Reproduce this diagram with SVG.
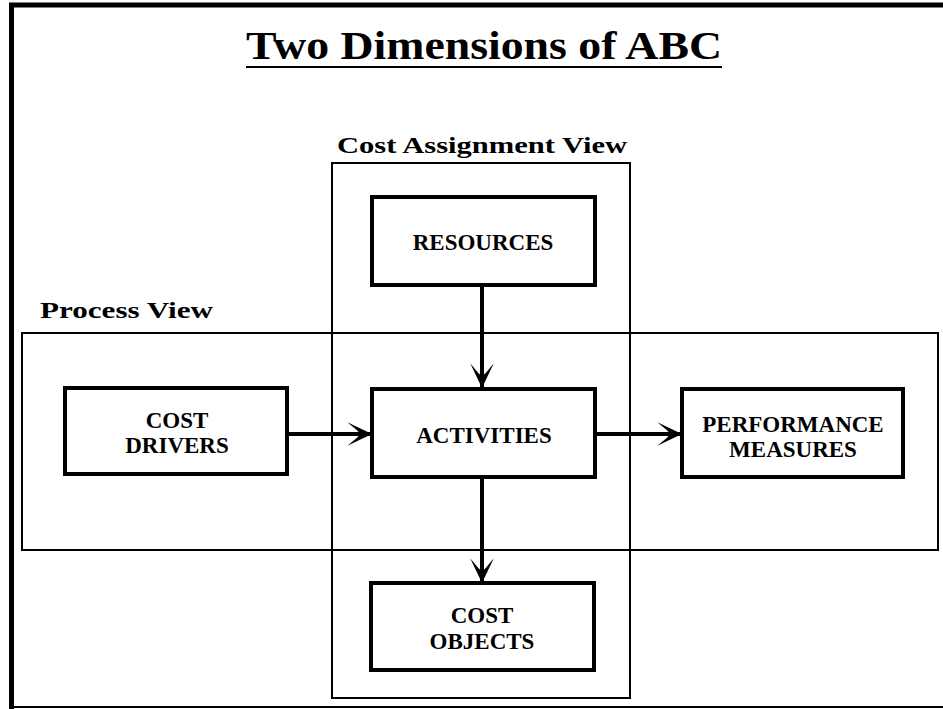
<svg xmlns="http://www.w3.org/2000/svg" width="943" height="709" viewBox="0 0 943 709">
<defs>
<style>
.frame{fill:none;stroke:#000}
.view{fill:none;stroke:#000;stroke-width:2}
.box{fill:#fff;stroke:#000;stroke-width:4}
.lbl{font-family:"Liberation Serif","Times New Roman",serif;font-weight:bold;font-size:23px;text-anchor:middle;fill:#000}
.vlbl{font-family:"Liberation Serif","Times New Roman",serif;font-weight:bold;font-size:24px;fill:#000}
.conn{stroke:#000;stroke-width:4;fill:none}
</style>
<marker id="ah" markerUnits="userSpaceOnUse" markerWidth="30" markerHeight="30" viewBox="-26 -14 28 28" refX="0" refY="0" orient="auto">
<path d="M0,0 L-23,-11 L-14,-3.5 L-11,0 L-14,3.5 L-23,11 Z" fill="#000"/>
</marker>
</defs>
<rect width="943" height="709" fill="#fff"/>
<g id="frame">
<line class="frame" x1="9" y1="5" x2="943" y2="5" stroke-width="5"/>
<line class="frame" x1="11.5" y1="3" x2="11.5" y2="709" stroke-width="5"/>
<line class="frame" x1="9" y1="707" x2="943" y2="707" stroke-width="2"/>
</g>
<g id="title">
<text x="484" y="59" font-family="'Liberation Serif','Times New Roman',serif" font-weight="bold" font-size="41" text-anchor="middle" textLength="476" lengthAdjust="spacingAndGlyphs">Two Dimensions of ABC</text>
<line x1="246" y1="67" x2="722" y2="67" stroke="#000" stroke-width="2"/>
</g>
<g id="cost-assignment-view">
<rect class="view" x="332" y="163" width="298" height="535"/>
<text class="vlbl" x="337" y="153" textLength="290" lengthAdjust="spacingAndGlyphs">Cost Assignment View</text>
</g>
<g id="process-view">
<rect class="view" x="22" y="333" width="916" height="217"/>
<text class="vlbl" x="40" y="318" textLength="173" lengthAdjust="spacingAndGlyphs">Process View</text>
</g>
<g id="connectors">
<line class="conn" x1="482" y1="285" x2="482" y2="388" marker-end="url(#ah)"/>
<line class="conn" x1="287" y1="434" x2="372" y2="434" marker-end="url(#ah)"/>
<line class="conn" x1="595" y1="434" x2="682" y2="434" marker-end="url(#ah)"/>
<line class="conn" x1="482" y1="477" x2="482" y2="583" marker-end="url(#ah)"/>
</g>
<g id="resources">
<rect class="box" x="372" y="197" width="223" height="88"/>
<text class="lbl" x="483" y="250">RESOURCES</text>
</g>
<g id="cost-drivers">
<rect class="box" x="65" y="388" width="222" height="86"/>
<text class="lbl" x="177" y="428">COST</text>
<text class="lbl" x="177" y="453">DRIVERS</text>
</g>
<g id="activities">
<rect class="box" x="372" y="389" width="223" height="88"/>
<text class="lbl" x="484" y="443">ACTIVITIES</text>
</g>
<g id="performance-measures">
<rect class="box" x="682" y="389" width="221" height="88"/>
<text class="lbl" x="793" y="432">PERFORMANCE</text>
<text class="lbl" x="793" y="457">MEASURES</text>
</g>
<g id="cost-objects">
<rect class="box" x="371" y="583" width="223" height="87"/>
<text class="lbl" x="482" y="623">COST</text>
<text class="lbl" x="482" y="649">OBJECTS</text>
</g>
</svg>
